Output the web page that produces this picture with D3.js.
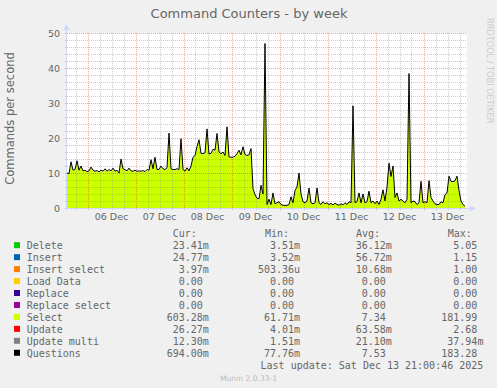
<!DOCTYPE html>
<html>
<head>
<meta charset="utf-8">
<script src="https://cdn.jsdelivr.net/npm/d3@7"></script>
<style>
  html, body { margin: 0; padding: 0; background: #f0f0f0; }
  svg { display: block; }
  .mono { font-family: "DejaVu Sans Mono", monospace; font-size: 10px; fill: #666; white-space: pre; }
</style>
</head>
<body>
<div id="chart_munin"></div>
<script>
// hourly samples, first one at Dec 5 13:45 UTC
const sampleStart = Date.UTC(2025, 11, 5, 13, 45);
const sampleHours = 200;

const questions = [
  10.0, 9.8, 13.2, 10.8, 11.0, 13.5, 10.8, 12.0, 10.6, 10.8,
  10.4, 10.6, 11.7, 10.8, 10.5, 10.7, 10.3, 10.8, 10.5, 11.2,
  10.5, 11.0, 10.6, 11.4, 10.5, 10.8, 10.0, 14.0, 11.2, 11.0,
  10.6, 11.4, 10.6, 10.5, 10.8, 10.5, 10.6, 10.5, 10.7, 10.4,
  11.0, 10.8, 13.8, 11.2, 14.5, 11.0, 11.0, 12.0, 11.2, 11.0,
  11.5, 21.4, 11.2, 11.0, 11.0, 11.2, 11.0, 19.8, 11.0, 10.5,
  11.5, 10.6, 12.0, 14.5, 15.0, 17.6, 19.5, 15.6, 15.5, 15.8,
  22.6, 15.4, 15.6, 16.8, 16.5, 21.3, 16.0, 15.5, 16.0, 15.0,
  23.2, 14.6, 14.5, 14.5, 14.8, 15.5, 16.5, 15.2, 17.5, 15.3,
  15.0, 15.2, 17.0, 5.5, 3.8, 2.8, 2.6, 6.5, 4.0, 47.0,
  1.0, 2.5, 1.0, 4.3, 1.2, 1.5, 1.8, 1.0, 0.8, 0.7,
  0.8, 1.0, 3.2, 1.5, 5.0, 6.0, 10.0, 4.0, 1.8, 1.5,
  2.0, 5.7, 1.5, 1.2, 1.5, 5.7, 1.5, 1.0, 1.8, 1.2,
  1.5, 1.0, 1.3, 0.9, 1.4, 1.0, 0.8, 1.2, 0.9, 1.5,
  1.0, 1.8, 1.5, 29.2, 1.5, 1.8, 4.3, 1.5, 4.0, 1.5,
  1.8, 4.8, 1.5, 2.0, 1.2, 2.0, 1.0, 2.5, 5.2, 2.0,
  6.0, 12.8, 9.0, 12.0, 3.0, 4.3, 2.0, 2.5, 2.0, 1.5,
  2.5, 38.4, 1.5, 2.0, 1.8, 1.0, 1.5, 7.6, 1.5, 1.8,
  1.5, 7.8, 3.0, 2.0, 1.2, 1.0, 1.0, 1.8, 1.5, 3.8,
  4.3, 9.1, 7.6, 7.5, 7.8, 9.1, 5.0, 2.0, 1.0, 0.5
];

const select = [
  9.8, 9.6, 12.9, 10.6, 10.8, 13.2, 10.6, 11.8, 10.4, 10.6,
  10.2, 10.4, 11.5, 10.6, 10.3, 10.5, 10.1, 10.6, 10.3, 11.0,
  10.3, 10.8, 10.4, 11.2, 10.3, 10.6, 9.8, 13.7, 11.0, 10.8,
  10.4, 11.2, 10.4, 10.3, 10.6, 10.3, 10.4, 10.3, 10.5, 10.2,
  10.8, 10.6, 13.5, 11.0, 14.2, 10.8, 10.8, 11.8, 11.0, 10.8,
  11.3, 21.0, 11.0, 10.8, 10.8, 11.0, 10.8, 19.4, 10.8, 10.3,
  11.3, 10.4, 11.8, 14.2, 14.7, 17.3, 19.1, 15.3, 15.2, 15.5,
  22.2, 15.1, 15.3, 16.5, 16.2, 20.9, 15.7, 15.2, 15.7, 14.7,
  22.8, 14.3, 14.2, 14.2, 14.5, 15.2, 16.2, 14.9, 17.2, 15.0,
  14.7, 14.9, 16.7, 5.3, 3.6, 2.6, 2.4, 6.3, 3.8, 46.4,
  0.9, 2.4, 0.9, 4.1, 1.1, 1.4, 1.7, 0.9, 0.7, 0.6,
  0.7, 0.9, 3.0, 1.4, 4.8, 5.8, 9.7, 3.8, 1.7, 1.4,
  1.9, 5.5, 1.4, 1.1, 1.4, 5.5, 1.4, 0.9, 1.7, 1.1,
  1.4, 0.9, 1.2, 0.8, 1.3, 0.9, 0.7, 1.1, 0.8, 1.4,
  0.9, 1.7, 1.4, 28.8, 1.4, 1.7, 4.1, 1.4, 3.8, 1.4,
  1.7, 4.6, 1.4, 1.9, 1.1, 1.9, 0.9, 2.4, 5.0, 1.9,
  5.8, 12.5, 8.8, 11.7, 2.9, 4.1, 1.9, 2.4, 1.9, 1.4,
  2.4, 38.0, 1.4, 1.9, 1.7, 0.9, 1.4, 7.4, 1.4, 1.7,
  1.4, 7.6, 2.9, 1.9, 1.1, 0.9, 0.9, 1.7, 1.4, 3.6,
  4.1, 8.8, 7.4, 7.3, 7.6, 8.8, 4.8, 1.9, 0.9, 0.4
];

const yTicks = [0, 10, 20, 30, 40, 50];

const seriesNames = ['Delete', 'Insert', 'Insert select', 'Load Data', 'Replace',
  'Replace select', 'Select', 'Update', 'Update multi', 'Questions'];
const seriesColors = ['#00cc00', '#0066b3', '#ff8000', '#ffcc00', '#330099',
  '#990099', '#ccff00', '#ff0000', '#808080', '#000000'];
const curValues = ['23.41m', '24.77m', '3.97m', '0.00', '0.00', '0.00', '603.28m', '26.27m', '12.30m', '694.00m'];
const minValues = ['3.51m', '3.52m', '503.36u', '0.00', '0.00', '0.00', '61.71m', '4.01m', '1.51m', '77.76m'];
const avgValues = ['36.12m', '56.72m', '10.68m', '0.00', '0.00', '0.00', '7.34', '63.58m', '21.10m', '7.53'];
const maxValues = ['5.05', '1.15', '1.00', '0.00', '0.00', '0.00', '181.99', '2.68', '37.94m', '183.28'];

const titleText = 'Command Counters - by week';
const yLabel = 'Commands per second';
const lastUpdate = 'Last update: Sat Dec 13 21:00:46 2025';
const versionText = 'Munin 2.0.33-1';
const watermark = 'RRDTOOL / TOBI OETIKER';

const main = () => {
  drawMunin();
}

function drawMunin() {
  const svgWidth = 497;
  const svgHeight = 388;
  const margin = { top: 33, left: 67 };
  const width = 400;
  const height = 175;

  const svg = d3.select('#chart_munin').append('svg')
    .attr('width', svgWidth)
    .attr('height', svgHeight)
    .style('font-family', '"DejaVu Sans", sans-serif')
  ;

  svg.append('rect')
    .attr('width', svgWidth)
    .attr('height', svgHeight)
    .attr('fill', '#f0f0f0')
  ;

  const data = questions.map((q, i) => ({
    date: new Date(sampleStart + i * 3600e3),
    questions: q,
    select: select[i],
  }));

  const x = d3.scaleUtc()
    .domain([new Date(sampleStart), new Date(sampleStart + sampleHours * 3600e3)])
    .range([margin.left, margin.left + width])
  ;
  const y = d3.scaleLinear()
    .domain([0, 50])
    .range([margin.top + height, margin.top])
  ;

  // canvas
  svg.append('rect')
    .attr('x', margin.left)
    .attr('y', margin.top)
    .attr('width', width)
    .attr('height', height)
    .attr('fill', '#ffffff')
  ;

  const area = d3.area()
    .x(d => x(d.date))
    .y0(y(0))
    .y1(d => y(d.select));

  svg.append('path')
    .datum(data)
    .attr('fill', '#ccff00')
    .attr('d', area)
  ;

  // grid: minor then major
  const grid = svg.append('g').attr('shape-rendering', 'crispEdges');
  const minorY = d3.range(0, 51, 2).filter(v => v % 10 !== 0);
  const minorX = x.ticks(d3.utcHour.every(6)).filter(d => d.getUTCHours() !== 0);
  const majorX = x.ticks(d3.utcDay.every(1));

  grid.selectAll('.minor-y')
    .data(minorY)
    .join('line')
    .attr('x1', margin.left - 2)
    .attr('x2', margin.left + width)
    .attr('y1', d => Math.round(y(d)) + 0.5)
    .attr('y2', d => Math.round(y(d)) + 0.5)
    .attr('stroke', 'rgba(143,143,143,0.45)')
    .attr('stroke-dasharray', '1,1')
  ;
  grid.selectAll('.minor-x')
    .data(minorX)
    .join('line')
    .attr('x1', d => Math.round(x(d)) + 0.5)
    .attr('x2', d => Math.round(x(d)) + 0.5)
    .attr('y1', margin.top)
    .attr('y2', margin.top + height + 2)
    .attr('stroke', 'rgba(143,143,143,0.45)')
    .attr('stroke-dasharray', '1,1')
  ;
  grid.selectAll('.major-y')
    .data(yTicks)
    .join('line')
    .attr('x1', margin.left - 2)
    .attr('x2', margin.left + width)
    .attr('y1', d => Math.round(y(d)) + 0.5)
    .attr('y2', d => Math.round(y(d)) + 0.5)
    .attr('stroke', 'rgba(255,0,0,0.38)')
    .attr('stroke-dasharray', '1,1')
  ;
  grid.selectAll('.major-x')
    .data(majorX)
    .join('line')
    .attr('x1', d => Math.round(x(d)) + 0.5)
    .attr('x2', d => Math.round(x(d)) + 0.5)
    .attr('y1', margin.top)
    .attr('y2', margin.top + height + 2)
    .attr('stroke', 'rgba(255,0,0,0.38)')
    .attr('stroke-dasharray', '1,1')
  ;

  const line = d3.line()
    .x(d => x(d.date))
    .y(d => y(d.questions));

  svg.append('path')
    .datum(data)
    .attr('fill', 'none')
    .attr('stroke', '#000000')
    .attr('stroke-width', 1)
    .attr('stroke-linejoin', 'round')
    .attr('d', line)
  ;

  // axes with arrows
  const axisColor = '#cfd6f8';
  const x0 = margin.left - 0.5;
  const yBase = y(0) + 0.5;

  svg.append('line')
    .attr('x1', x0).attr('x2', x0)
    .attr('y1', yBase + 2).attr('y2', margin.top - 5)
    .attr('stroke', axisColor)
  ;
  svg.append('path')
    .attr('d', `M${x0 - 3},${margin.top - 3}L${x0},${margin.top - 9}L${x0 + 3},${margin.top - 3}Z`)
    .attr('fill', axisColor)
  ;
  svg.append('line')
    .attr('x1', x0 - 2).attr('x2', margin.left + width + 4)
    .attr('y1', yBase).attr('y2', yBase)
    .attr('stroke', axisColor)
  ;
  svg.append('path')
    .attr('d', `M${margin.left + width + 3},${yBase - 3}L${margin.left + width + 9},${yBase}L${margin.left + width + 3},${yBase + 3}Z`)
    .attr('fill', axisColor)
  ;

  // tick labels
  svg.append('g')
    .selectAll('text')
    .data(yTicks)
    .join('text')
    .attr('x', 60)
    .attr('y', d => y(d) + 3.5)
    .attr('text-anchor', 'end')
    .attr('font-size', '9.5px')
    .attr('fill', '#666')
    .text(d => d)
  ;

  const fmtDay = d3.utcFormat('%d %b');
  svg.append('g')
    .selectAll('text')
    .data(majorX)
    .join('text')
    .attr('x', d => x(d3.utcHour.offset(d, 12)))
    .attr('y', 220)
    .attr('text-anchor', 'middle')
    .attr('font-size', '9.5px')
    .attr('fill', '#666')
    .text(d => fmtDay(d))
  ;

  svg.append('text')
    .attr('x', 249)
    .attr('y', 18)
    .attr('text-anchor', 'middle')
    .attr('font-size', '13px')
    .attr('fill', '#666')
    .text(titleText)
  ;

  svg.append('text')
    .attr('transform', `translate(14, ${margin.top + height / 2 - 2}) rotate(-90)`)
    .attr('text-anchor', 'middle')
    .attr('font-size', '11.5px')
    .attr('fill', '#666')
    .text(yLabel)
  ;

  svg.append('text')
    .attr('transform', 'translate(486.5, 18) rotate(90)')
    .attr('font-size', '8.2px')
    .attr('fill', '#cccccc')
    .text(watermark)
  ;

  // legend
  const legend = svg.append('g');
  const rowY = i => 245.7 + i * 11.95;
  const colRight = [202.8, 294.1, 385.8, 477.4];
  const headers = [['Cur:', 172.7], ['Min:', 265], ['Avg:', 356], ['Max:', 447.7]];

  legend.selectAll('.hdr')
    .data(headers)
    .join('text')
    .attr('class', 'mono')
    .attr('x', d => d[1])
    .attr('y', 237.3)
    .text(d => d[0])
  ;

  const rows = legend.selectAll('.row')
    .data(seriesNames)
    .join('g')
    .attr('transform', (d, i) => `translate(0, ${rowY(i)})`)
  ;
  rows.append('rect')
    .attr('x', 14)
    .attr('y', -3.5)
    .attr('width', 6)
    .attr('height', 6)
    .attr('fill', (d, i) => seriesColors[i])
  ;
  rows.append('text')
    .attr('class', 'mono')
    .attr('x', 26.7)
    .attr('y', 3.6)
    .text(d => d)
  ;

  [curValues, minValues, avgValues, maxValues].forEach((col, c) => {
    rows.append('text')
      .attr('class', 'mono')
      .attr('x', colRight[c])
      .attr('y', 3.6)
      .attr('text-anchor', 'end')
      .text((d, i) => col[i].replace(/[a-zA-Z]$/, ''))
    ;
    rows.append('text')
      .attr('class', 'mono')
      .attr('x', colRight[c])
      .attr('y', 3.6)
      .text((d, i) => (col[i].match(/[a-zA-Z]$/) || [''])[0])
    ;
  });

  svg.append('text')
    .attr('class', 'mono')
    .attr('x', 483.3)
    .attr('y', 369.3)
    .attr('text-anchor', 'end')
    .text(lastUpdate)
  ;

  svg.append('text')
    .attr('x', 248.5)
    .attr('y', 380.5)
    .attr('text-anchor', 'middle')
    .attr('font-size', '7.6px')
    .attr('fill', '#bbbbbb')
    .text(versionText)
  ;
}

main();
</script>
</body>
</html>
